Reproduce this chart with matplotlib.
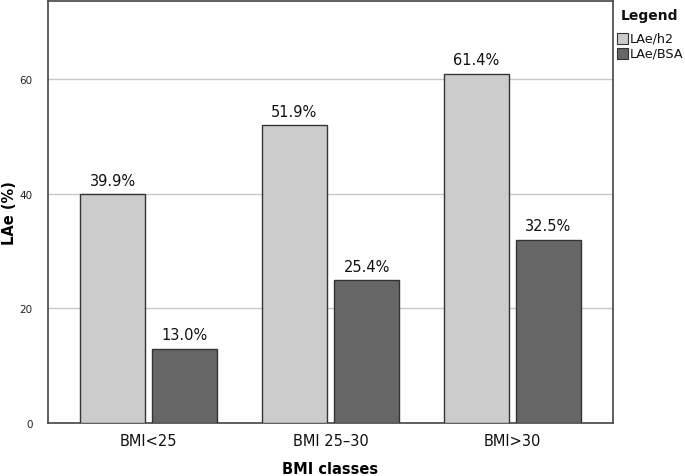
import matplotlib
matplotlib.use("Agg")
import matplotlib.pyplot as plt
import numpy as np
from matplotlib.patches import Rectangle

categories = ["BMI<25", "BMI 25\u201330", "BMI>30"]
series_names = ["LAe/h2", "LAe/BSA"]
h2_heights = [40, 52, 61]
bsa_heights = [13, 25, 32]
h2_labels = ["39.9%", "51.9%", "61.4%"]
bsa_labels = ["13.0%", "25.4%", "32.5%"]
yticks = [0, 20, 40, 60]

light = "#cccccc"
dark = "#666666"
edge = "#333333"

W, H = 685, 477
fig = plt.figure(figsize=(W / 100, H / 100), dpi=100)
ax = fig.add_axes([0.0701, 0.1111, 0.8248, 0.8847])

x = np.arange(len(categories))
off = 0.199
w = 0.357
b1 = ax.bar(x - off, h2_heights, w, color=light, edgecolor=edge, linewidth=1.0, zorder=3)
b2 = ax.bar(x + off, bsa_heights, w, color=dark, edgecolor=edge, linewidth=1.0, zorder=3)

for bars, labs in ((b1, h2_labels), (b2, bsa_labels)):
    for r, lab in zip(bars, labs):
        ax.text(r.get_x() + r.get_width() / 2, r.get_height() + 1.1, lab,
                ha="center", va="bottom", fontsize=10.5, color="#111111")

ax.set_xlim(-0.554, 2.554)
ax.set_ylim(0, 73.7)
ax.set_yticks(yticks)
ax.set_yticklabels([str(t) for t in yticks], fontsize=7.5, color="#222222")
ax.set_xticks(x)
ax.set_xticklabels(categories, fontsize=10.5, color="#111111")
ax.tick_params(axis="both", length=0)
ax.tick_params(axis="y", pad=11)
ax.tick_params(axis="x", pad=7)
ax.yaxis.grid(True, color="#c8c8c8", linewidth=1.0, zorder=0)
ax.set_axisbelow(True)
for s in ax.spines.values():
    s.set_color("#444444")
    s.set_linewidth(1.2)

ax.set_ylabel("LAe (%)", fontsize=10.5, fontweight="bold")
ax.yaxis.set_label_coords(-0.055, 0.5)
ax.set_xlabel("BMI classes", fontsize=10.5, fontweight="bold")
ax.xaxis.set_label_coords(0.5, -0.090)

def fx(px):
    return px / W

def fy(py):
    return 1 - py / H

fig.text(fx(650), fy(16), "Legend", ha="center", va="center",
         fontsize=10, fontweight="bold", color="#111111")
for i, (name, col) in enumerate(zip(series_names, [light, dark])):
    yc = 39 + i * 15.5
    fig.add_artist(Rectangle((fx(617), fy(yc + 5.5)), fx(11), 11 / H,
                             facecolor=col, edgecolor=edge, linewidth=0.8,
                             transform=fig.transFigure))
    fig.text(fx(629.5), fy(yc), name, ha="left", va="center",
             fontsize=9.2, color="#111111")

fig.savefig("out.png", dpi=100)
